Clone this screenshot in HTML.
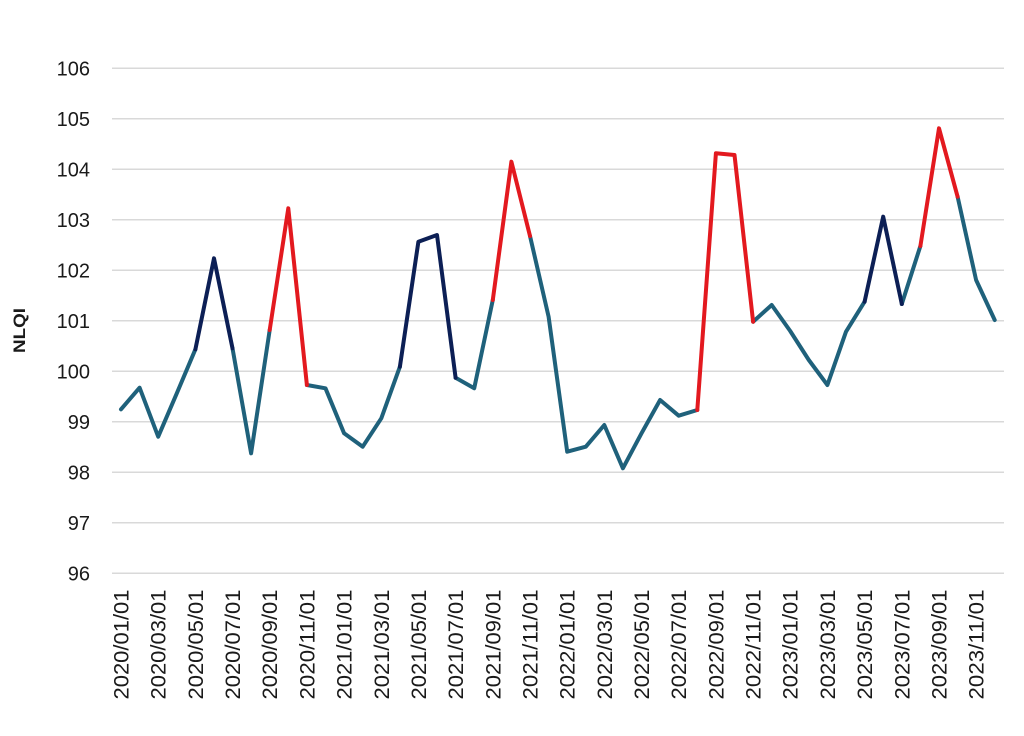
<!DOCTYPE html>
<html>
<head>
<meta charset="utf-8">
<style>
  html, body { margin: 0; padding: 0; background: #ffffff; }
  body { width: 1024px; height: 736px; overflow: hidden; }
  svg { display: block; }
  text { font-family: "Liberation Sans", "DejaVu Sans", sans-serif; fill: #1a1a1a; }
</style>
</head>
<body>
<svg width="1024" height="736" viewBox="0 0 1024 736" xmlns="http://www.w3.org/2000/svg">
  <rect width="1024" height="736" fill="#ffffff"/>
  <!-- gridlines -->
  <g stroke="#d9d9d9" stroke-width="1.5">
    <line x1="112" y1="68.3" x2="1004" y2="68.3"/>
    <line x1="112" y1="118.8" x2="1004" y2="118.8"/>
    <line x1="112" y1="169.3" x2="1004" y2="169.3"/>
    <line x1="112" y1="219.8" x2="1004" y2="219.8"/>
    <line x1="112" y1="270.3" x2="1004" y2="270.3"/>
    <line x1="112" y1="320.8" x2="1004" y2="320.8"/>
    <line x1="112" y1="371.3" x2="1004" y2="371.3"/>
    <line x1="112" y1="421.8" x2="1004" y2="421.8"/>
    <line x1="112" y1="472.3" x2="1004" y2="472.3"/>
    <line x1="112" y1="522.8" x2="1004" y2="522.8"/>
    <line x1="112" y1="573.3" x2="1004" y2="573.3"/>
  </g>
  <!-- y labels -->
  <g font-size="20" text-anchor="end">
    <text x="90" y="75.6">106</text>
    <text x="90" y="126.1">105</text>
    <text x="90" y="176.6">104</text>
    <text x="90" y="227.1">103</text>
    <text x="90" y="277.6">102</text>
    <text x="90" y="328.1">101</text>
    <text x="90" y="378.6">100</text>
    <text x="90" y="429.1">99</text>
    <text x="90" y="479.6">98</text>
    <text x="90" y="530.1">97</text>
    <text x="90" y="580.6">96</text>
  </g>
  <!-- y title -->
  <text transform="translate(25,330.5) rotate(-90)" font-size="17" font-weight="bold" text-anchor="middle" textLength="45" lengthAdjust="spacingAndGlyphs" fill="#000">NLQI</text>
  <!-- x labels -->
  <g font-size="21" text-anchor="end">
    <text transform="translate(128.5,589.5) rotate(-90)" textLength="110" lengthAdjust="spacingAndGlyphs">2020/01/01</text>
    <text transform="translate(165.7,589.5) rotate(-90)" textLength="110" lengthAdjust="spacingAndGlyphs">2020/03/01</text>
    <text transform="translate(202.9,589.5) rotate(-90)" textLength="110" lengthAdjust="spacingAndGlyphs">2020/05/01</text>
    <text transform="translate(240.0,589.5) rotate(-90)" textLength="110" lengthAdjust="spacingAndGlyphs">2020/07/01</text>
    <text transform="translate(277.2,589.5) rotate(-90)" textLength="110" lengthAdjust="spacingAndGlyphs">2020/09/01</text>
    <text transform="translate(314.4,589.5) rotate(-90)" textLength="110" lengthAdjust="spacingAndGlyphs">2020/11/01</text>
    <text transform="translate(351.6,589.5) rotate(-90)" textLength="110" lengthAdjust="spacingAndGlyphs">2021/01/01</text>
    <text transform="translate(388.8,589.5) rotate(-90)" textLength="110" lengthAdjust="spacingAndGlyphs">2021/03/01</text>
    <text transform="translate(425.9,589.5) rotate(-90)" textLength="110" lengthAdjust="spacingAndGlyphs">2021/05/01</text>
    <text transform="translate(463.1,589.5) rotate(-90)" textLength="110" lengthAdjust="spacingAndGlyphs">2021/07/01</text>
    <text transform="translate(500.3,589.5) rotate(-90)" textLength="110" lengthAdjust="spacingAndGlyphs">2021/09/01</text>
    <text transform="translate(537.5,589.5) rotate(-90)" textLength="110" lengthAdjust="spacingAndGlyphs">2021/11/01</text>
    <text transform="translate(574.7,589.5) rotate(-90)" textLength="110" lengthAdjust="spacingAndGlyphs">2022/01/01</text>
    <text transform="translate(611.8,589.5) rotate(-90)" textLength="110" lengthAdjust="spacingAndGlyphs">2022/03/01</text>
    <text transform="translate(649.0,589.5) rotate(-90)" textLength="110" lengthAdjust="spacingAndGlyphs">2022/05/01</text>
    <text transform="translate(686.2,589.5) rotate(-90)" textLength="110" lengthAdjust="spacingAndGlyphs">2022/07/01</text>
    <text transform="translate(723.4,589.5) rotate(-90)" textLength="110" lengthAdjust="spacingAndGlyphs">2022/09/01</text>
    <text transform="translate(760.6,589.5) rotate(-90)" textLength="110" lengthAdjust="spacingAndGlyphs">2022/11/01</text>
    <text transform="translate(797.7,589.5) rotate(-90)" textLength="110" lengthAdjust="spacingAndGlyphs">2023/01/01</text>
    <text transform="translate(834.9,589.5) rotate(-90)" textLength="110" lengthAdjust="spacingAndGlyphs">2023/03/01</text>
    <text transform="translate(872.1,589.5) rotate(-90)" textLength="110" lengthAdjust="spacingAndGlyphs">2023/05/01</text>
    <text transform="translate(909.3,589.5) rotate(-90)" textLength="110" lengthAdjust="spacingAndGlyphs">2023/07/01</text>
    <text transform="translate(946.5,589.5) rotate(-90)" textLength="110" lengthAdjust="spacingAndGlyphs">2023/09/01</text>
    <text transform="translate(983.6,589.5) rotate(-90)" textLength="110" lengthAdjust="spacingAndGlyphs">2023/11/01</text>
  </g>
  <!-- series -->
  <g fill="none" stroke-width="4" stroke-linejoin="round" stroke-linecap="round">
    <!-- teal segments -->
    <polyline stroke="#1f617b" points="121.0,409.3 139.6,387.7 158.2,436.7 176.8,393.3 195.4,349.3"/>
    <polyline stroke="#1f617b" points="232.5,348.3 251.1,453.3 269.7,330"/>
    <polyline stroke="#1f617b" points="306.9,385 325.5,388.3 344.1,433.3 362.7,446.7 381.3,418.3 399.9,366.7"/>
    <polyline stroke="#1f617b" points="455.6,377.7 474.2,388.3 492.8,300"/>
    <polyline stroke="#1f617b" points="530.0,236 548.6,316.7 567.2,451.7 585.8,446.7 604.3,425 622.9,468.3 641.5,433.3 660.1,400 678.7,415.7 697.3,410"/>
    <polyline stroke="#1f617b" points="753.1,321.7 771.7,305 790.2,331 808.8,360 827.4,385 846.0,331.7 864.6,301.7"/>
    <polyline stroke="#1f617b" points="901.8,304 920.4,246"/>
    <polyline stroke="#1f617b" points="957.6,196.7 976.1,280 994.7,320"/>
    <!-- navy segments -->
    <polyline stroke="#0c1f55" points="195.4,349.3 214.0,258.3 232.5,348.3"/>
    <polyline stroke="#0c1f55" points="399.9,366.7 418.4,241.7 437.0,235 455.6,377.7"/>
    <polyline stroke="#0c1f55" points="864.6,301.7 883.2,216.7 901.8,304"/>
    <!-- red segments -->
    <polyline stroke="#e3191f" points="269.7,330 288.3,208.3 306.9,385"/>
    <polyline stroke="#e3191f" points="492.8,300 511.4,161.7 530.0,236"/>
    <polyline stroke="#e3191f" points="697.3,410 715.9,153.3 734.5,155 753.1,321.7"/>
    <polyline stroke="#e3191f" points="920.4,246 939.0,128.3 957.6,196.7"/>
  </g>
</svg>
</body>
</html>
